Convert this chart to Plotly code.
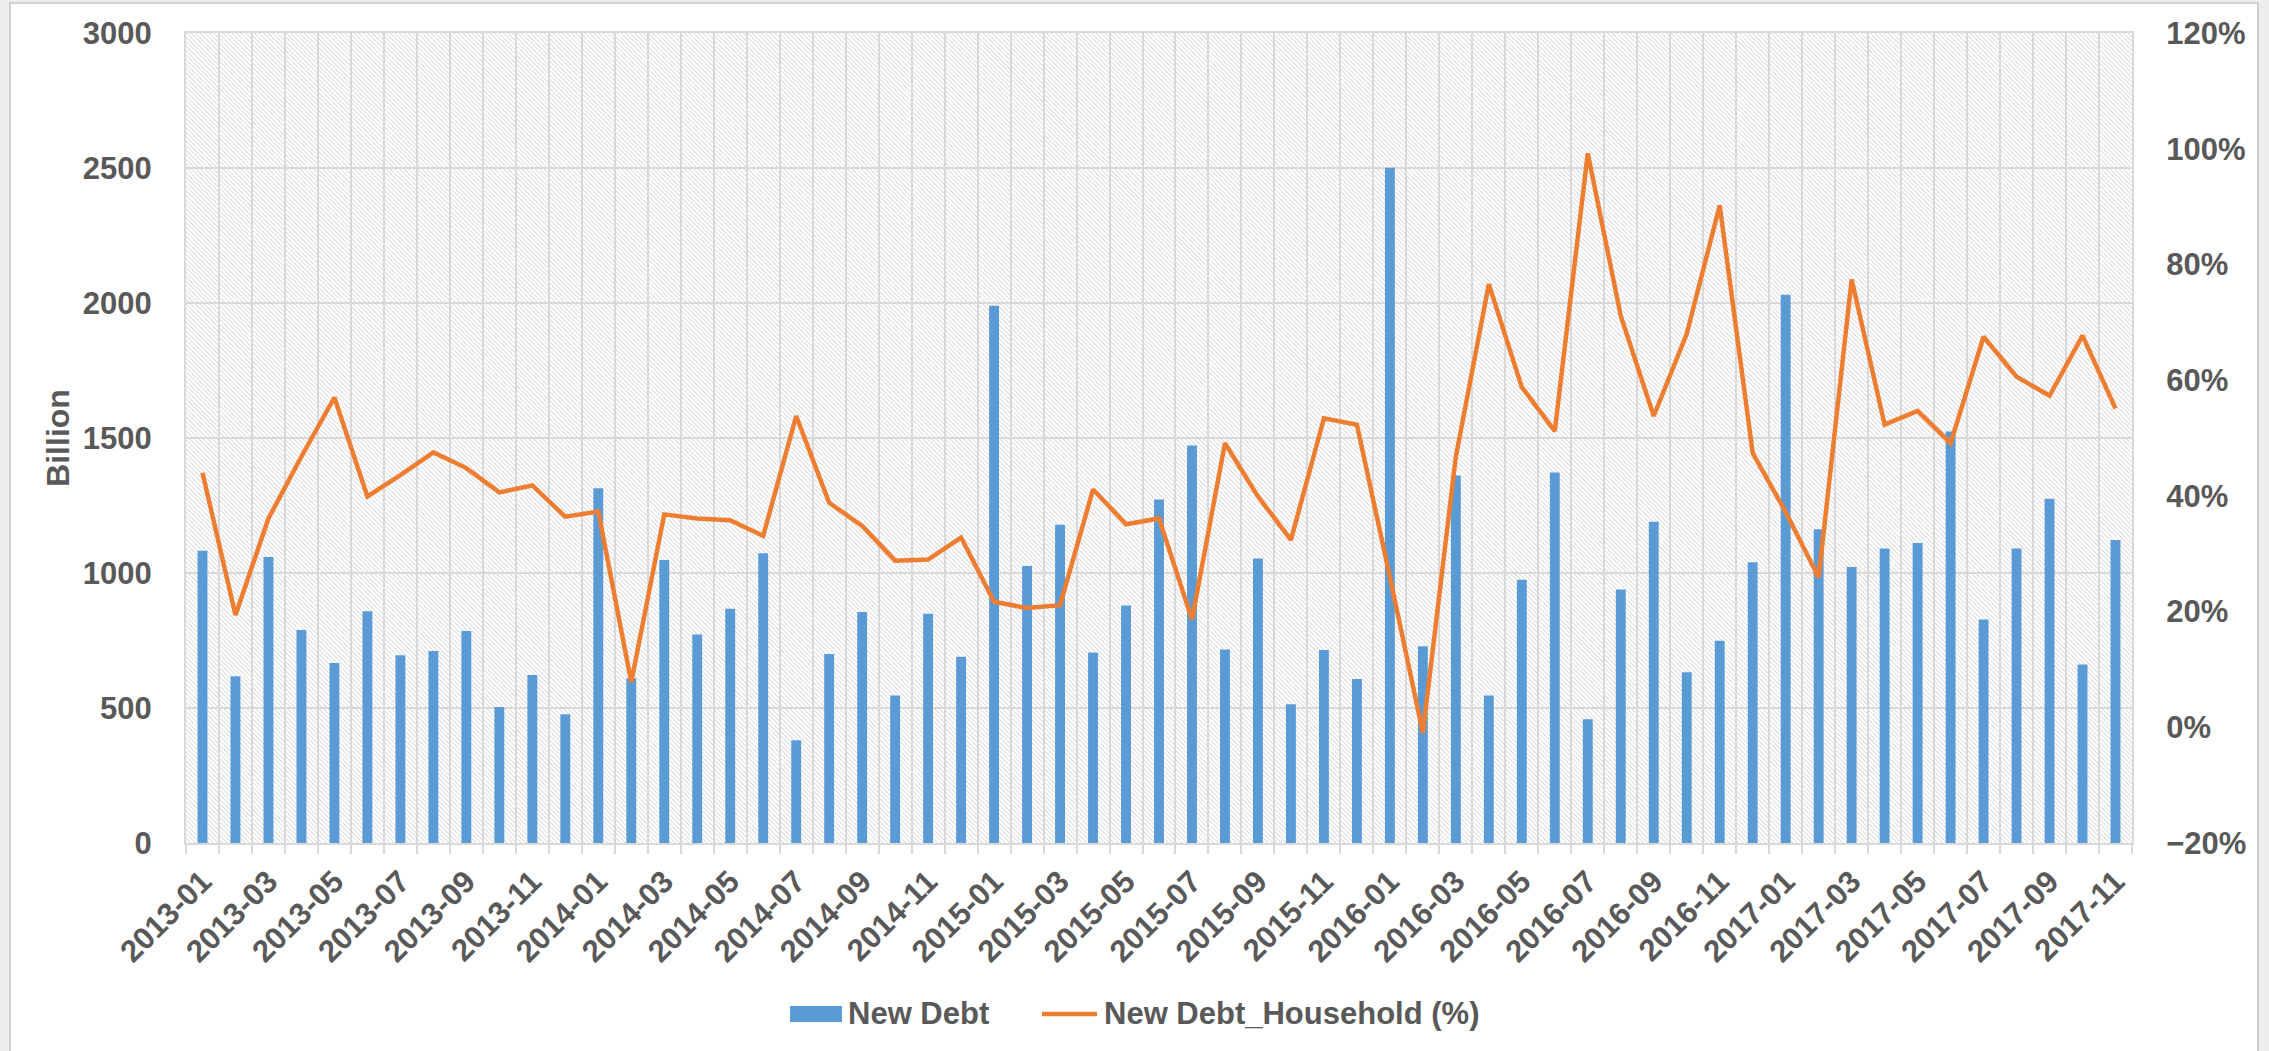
import base64
import plotly.graph_objects as go

# Monthly categories 2013-01 .. 2017-11
months = [
    "2013-01", "2013-02", "2013-03", "2013-04", "2013-05", "2013-06", "2013-07", "2013-08", "2013-09", "2013-10", "2013-11", "2013-12",
    "2014-01", "2014-02", "2014-03", "2014-04", "2014-05", "2014-06", "2014-07", "2014-08", "2014-09", "2014-10", "2014-11", "2014-12",
    "2015-01", "2015-02", "2015-03", "2015-04", "2015-05", "2015-06", "2015-07", "2015-08", "2015-09", "2015-10", "2015-11", "2015-12",
    "2016-01", "2016-02", "2016-03", "2016-04", "2016-05", "2016-06", "2016-07", "2016-08", "2016-09", "2016-10", "2016-11", "2016-12",
    "2017-01", "2017-02", "2017-03", "2017-04", "2017-05", "2017-06", "2017-07", "2017-08", "2017-09", "2017-10", "2017-11",
]

# New debt, billion
new_debt = [
    1082, 618, 1059, 789, 667, 858, 695, 711, 785, 504, 622, 477,
    1314, 610, 1048, 772, 868, 1073, 381, 700, 856, 546, 849, 690,
    1990, 1026, 1179, 706, 880, 1272, 1472, 717, 1054, 514, 715, 607,
    2501, 729, 1361, 546, 975, 1372, 458, 939, 1190, 632, 749, 1040,
    2031, 1162, 1022, 1091, 1111, 1524, 828, 1091, 1275, 661, 1122,
]

# Household share of new debt, percent
household_pct = [
    44.0, 19.4, 36.1, 46.8, 57.0, 39.9, 43.6, 47.5, 44.8, 40.6, 41.8, 36.4,
    37.3, 7.8, 36.8, 36.1, 35.8, 33.1, 53.8, 38.8, 34.8, 28.8, 29.0, 32.8,
    21.7, 20.6, 21.1, 41.1, 35.1, 36.1, 18.6, 49.1, 39.9, 32.4, 53.4, 52.3,
    26.0, -1.0, 46.8, 76.6, 58.8, 51.2, 99.2, 71.1, 53.8, 68.0, 90.2, 47.4,
    37.2, 25.9, 77.4, 52.3, 54.7, 49.1, 67.5, 60.6, 57.3, 67.7, 55.1,
]

series_names = ["New Debt", "New Debt_Household (%)"]

# Every second month is labelled
tick_text = [m if i % 2 == 0 else "" for i, m in enumerate(months)]

BLUE = "#5b9bd5"
ORANGE = "#ed7d31"
TEXT = "#595959"
GRID = "#d9d9d9"
FONT = "Liberation Sans, Arial, sans-serif"

W, H = 2269, 1051
L, R, T, B = 186, 137, 33, 208
PW, PH = W - L - R, H - T - B

# Diagonal hatch used as the plot-area fill
hatch_svg = f"""<svg xmlns="http://www.w3.org/2000/svg" width="{PW}" height="{PH}" viewBox="0 0 {PW} {PH}">
<defs><pattern id="h" width="3.2" height="3.2" patternUnits="userSpaceOnUse" patternTransform="rotate(-45)">
<line x1="0" y1="0" x2="0" y2="3.2" stroke="#c9c9c9" stroke-width="1.2"/></pattern></defs>
<rect width="{PW}" height="{PH}" fill="#ffffff"/>
<rect width="{PW}" height="{PH}" fill="url(#h)"/></svg>"""
hatch_uri = "data:image/svg+xml;base64," + base64.b64encode(hatch_svg.encode()).decode()

fig = go.Figure()
fig.add_trace(go.Bar(
    x=months, y=new_debt, name=series_names[0],
    marker=dict(color=BLUE, line=dict(width=0)),
    yaxis="y", showlegend=False,
))
fig.add_trace(go.Scatter(
    x=months, y=household_pct, name=series_names[1],
    mode="lines", line=dict(color=ORANGE, width=4.5),
    yaxis="y2", showlegend=False,
))

fig.update_layout(
    width=W, height=H,
    margin=dict(l=L, r=R, t=T, b=B, pad=0),
    paper_bgcolor="white",
    plot_bgcolor="white",
    font=dict(family=FONT, size=31, color=TEXT, weight="bold"),
    bargap=0.7,
    xaxis=dict(
        type="category", tickson="boundaries",
        tickmode="array", tickvals=months, ticktext=tick_text,
        tickangle=-45, ticks="outside", ticklen=9, tickwidth=2, tickcolor=GRID,
        showgrid=True, gridcolor=GRID, gridwidth=2,
        showline=True, linecolor=GRID, linewidth=2, mirror=True,
        ticklabelstandoff=6,
        range=[-0.5, len(months) - 0.5],
    ),
    yaxis=dict(
        range=[0, 3000], dtick=500, tick0=0,
        showgrid=True, gridcolor=GRID, gridwidth=2,
        showline=True, linecolor=GRID, linewidth=2,
        zeroline=False, ticks="",
        ticklabelstandoff=26,
        title=dict(text="Billion", font=dict(size=32, color=TEXT, family=FONT, weight="bold"), standoff=4),
    ),
    yaxis2=dict(
        overlaying="y", side="right",
        range=[-20, 120], dtick=20, tick0=0, ticksuffix="%",
        showgrid=False, zeroline=False, ticks="",
        showline=True, linecolor=GRID, linewidth=2,
        ticklabelstandoff=26,
    ),
    images=[dict(
        source=hatch_uri, xref="paper", yref="paper",
        x=0, y=1, sizex=1, sizey=1, xanchor="left", yanchor="top",
        sizing="stretch", layer="below",
    )],
)

# Pixel -> paper coordinate helpers
def px_x(v):
    return (v - L) / PW

def px_y(v):
    return (H - B - v) / PH

# Worksheet strips around the chart area and the chart-area border
sheet = "#efeeec"
shapes = [
    dict(type="rect", xref="paper", yref="paper", x0=px_x(0), x1=px_x(10), y0=px_y(H), y1=px_y(0),
         fillcolor=sheet, line=dict(width=0), layer="below"),
    dict(type="rect", xref="paper", yref="paper", x0=px_x(0), x1=px_x(W), y0=px_y(3), y1=px_y(0),
         fillcolor=sheet, line=dict(width=0), layer="below"),
    dict(type="rect", xref="paper", yref="paper", x0=px_x(2258), x1=px_x(W), y0=px_y(H), y1=px_y(0),
         fillcolor=sheet, line=dict(width=0), layer="below"),
    dict(type="rect", xref="paper", yref="paper", x0=px_x(10), x1=px_x(2258), y0=px_y(H + 5), y1=px_y(3),
         fillcolor="rgba(0,0,0,0)", line=dict(color="#d0d0d0", width=2), layer="below"),
]

# Legend keys at the bottom
legend_y = 1014
shapes += [
    dict(type="rect", xref="paper", yref="paper", x0=px_x(790), x1=px_x(842),
         y0=px_y(legend_y + 8), y1=px_y(legend_y - 8), fillcolor=BLUE, line=dict(width=0)),
    dict(type="line", xref="paper", yref="paper", x0=px_x(1042), x1=px_x(1097),
         y0=px_y(legend_y), y1=px_y(legend_y), line=dict(color=ORANGE, width=4.5)),
]
annotations = [
    dict(text=series_names[0], xref="paper", yref="paper", x=px_x(846), y=px_y(legend_y),
         xanchor="left", yanchor="middle", showarrow=False,
         font=dict(family=FONT, size=31, color=TEXT, weight="bold")),
    dict(text=series_names[1], xref="paper", yref="paper", x=px_x(1102), y=px_y(legend_y),
         xanchor="left", yanchor="middle", showarrow=False,
         font=dict(family=FONT, size=31, color=TEXT, weight="bold")),
]
fig.update_layout(shapes=shapes, annotations=annotations)

fig.write_html("out.html")
